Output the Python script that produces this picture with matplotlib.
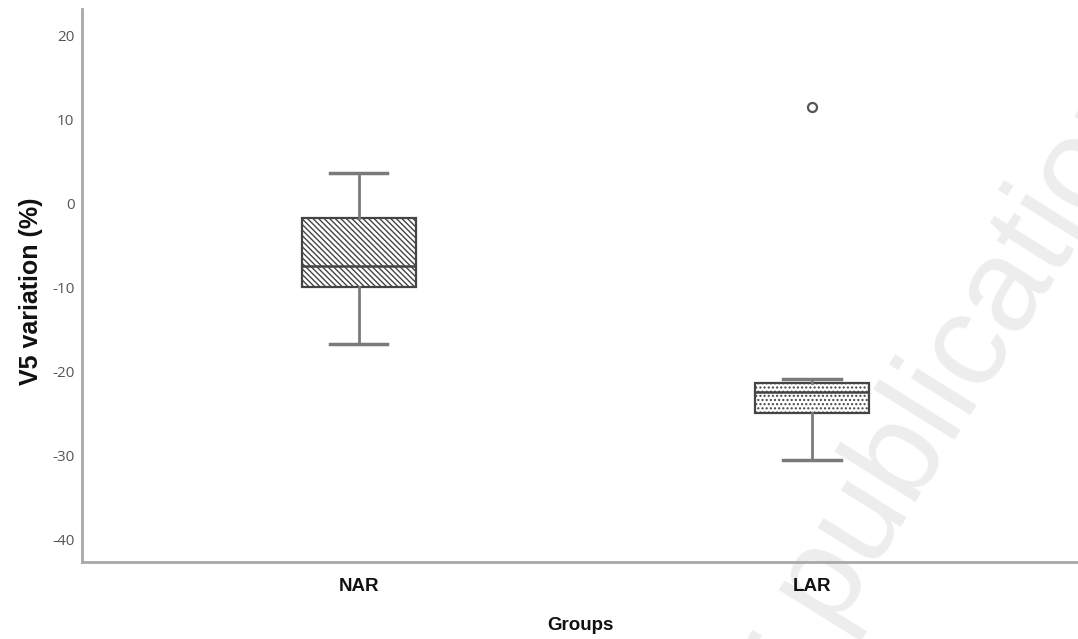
import matplotlib
matplotlib.use("Agg")
import matplotlib.pyplot as plt

# Data
groups = ["NAR", "LAR"]
q1 = [-9.9, -25.0]
median = [-7.4, -22.5]
q3 = [-1.7, -21.4]
whisker_low = [-16.7, -30.5]
whisker_high = [3.7, -20.9]
outliers = [[], [11.5]]
yticks = [-40, -30, -20, -10, 0, 10, 20]
hatches = ["\\\\\\\\\\\\", "...."]

plt.rcParams['hatch.linewidth'] = 1.0
plt.rcParams['hatch.color'] = '#444444'

fig = plt.figure(figsize=(10.78, 6.39), dpi=100)
ax = fig.add_axes([0.0761, 0.1205, 0.9239, 0.8655])

stats = []
for i, g in enumerate(groups):
    stats.append(dict(label=g, med=median[i], q1=q1[i], q3=q3[i],
                      whislo=whisker_low[i], whishi=whisker_high[i],
                      fliers=outliers[i]))

bp = ax.bxp(stats, positions=[1, 2], widths=0.252, patch_artist=True,
            showfliers=True, manage_ticks=False,
            boxprops=dict(edgecolor='#444444', linewidth=1.6, facecolor='white'),
            medianprops=dict(color='#444444', linewidth=1.8),
            whiskerprops=dict(color='#7a7a7a', linewidth=2.0),
            capprops=dict(color='#7a7a7a', linewidth=2.5),
            capwidths=0.126,
            flierprops=dict(marker='o', markersize=6.5, markerfacecolor='white',
                            markeredgecolor='#555555', markeredgewidth=1.6))
for patch, h in zip(bp['boxes'], hatches):
    patch.set_hatch(h)

ax.set_xlim(0.389, 2.587)
ax.set_ylim(-42.7, 23.2)
ax.set_yticks(yticks)
ax.set_yticklabels([str(t) for t in yticks], fontsize=11, color='#555555',
                   family='Open Sans')
ax.set_xticks([1, 2])
ax.set_xticklabels(groups, fontsize=13.5, fontweight='bold',
                   family='Liberation Sans', color='#111111')
ax.tick_params(axis='y', length=0, pad=5.5)
ax.tick_params(axis='x', length=0, pad=11.5)
for s in ['top', 'right']:
    ax.spines[s].set_visible(False)
for s in ['left', 'bottom']:
    ax.spines[s].set_color('#a8a8a8')
    ax.spines[s].set_linewidth(2.0)

ax.set_ylabel("V5 variation (%)", fontsize=18, fontweight='bold',
              family='Liberation Sans', color='#111111')
ax.yaxis.set_label_coords(-0.039, 0.49)
ax.set_xlabel("Groups", fontsize=13.5, fontweight='bold',
              family='Liberation Sans', labelpad=16, color='#111111')

# Watermark
fig.text(0.68, -0.245, "for publication", fontsize=95, color='#ededed',
         rotation=58, family='Liberation Sans',
         ha='left', va='baseline', zorder=0, rotation_mode='anchor')
ax.set_zorder(1)
ax.patch.set_alpha(0)

fig.savefig("out.png", dpi=100)
